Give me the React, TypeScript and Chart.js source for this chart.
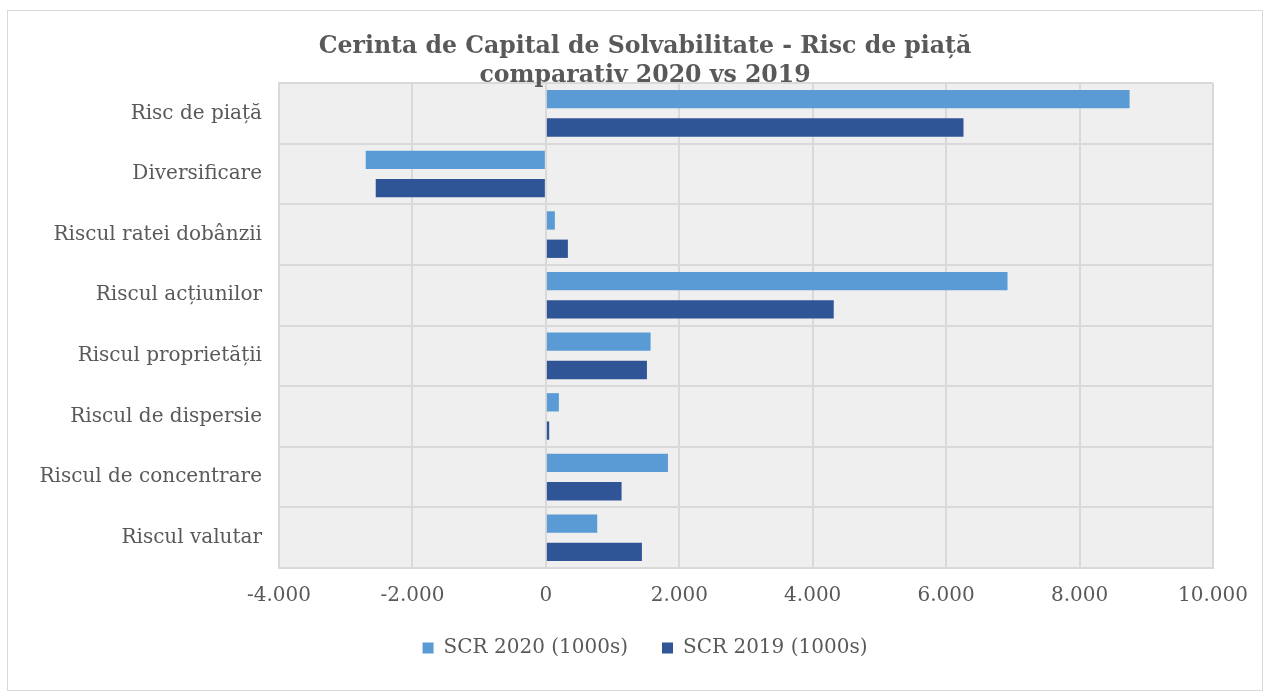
import React, { useEffect, useRef } from "react";
import { Chart, registerables } from "chart.js";

Chart.register(...registerables);

const categories = [
  "Risc de piață",
  "Diversificare",
  "Riscul ratei dobânzii",
  "Riscul acțiunilor",
  "Riscul proprietății",
  "Riscul de dispersie",
  "Riscul de concentrare",
  "Riscul valutar",
];
const scr2020 = [8750, -2700, 135, 6920, 1570, 195, 1830, 770];
const scr2019 = [6260, -2550, 330, 4315, 1515, 50, 1135, 1440];
const seriesNames = ["SCR 2020 (1000s)", "SCR 2019 (1000s)"];
const titleLines = [
  "Cerinta de Capital de Solvabilitate - Risc de piață",
  "comparativ 2020 vs 2019",
];
const xMin = -4000;
const xMax = 10000;
const xStep = 2000;

const W = 1271;
const H = 697;
const TEXT = "#595959";
const GRID = "#d9d9d9";
const FONT = "'DejaVu Serif', serif";

function fmt(v: number): string {
  const s = Math.round(Math.abs(v))
    .toString()
    .replace(/\B(?=(\d{3})+(?!\d))/g, ".");
  return (v < 0 ? "-" : "") + s;
}

const plotBg = {
  id: "plotBg",
  beforeDraw(chart: any) {
    const { ctx, chartArea } = chart;
    if (!chartArea) return;
    ctx.save();
    ctx.fillStyle = "#efefef";
    ctx.fillRect(chartArea.left, chartArea.top, chartArea.right - chartArea.left, chartArea.bottom - chartArea.top);
    ctx.restore();
  },
};

export default function App() {
  const ref = useRef<HTMLCanvasElement | null>(null);

  useEffect(() => {
    document.body.style.margin = "0";
    if (!ref.current) return;
    const chart = new Chart(ref.current, {
      type: "bar",
      data: {
        labels: categories,
        datasets: [
          {
            label: seriesNames[0],
            data: scr2020,
            backgroundColor: "#5b9bd5",
            borderWidth: 0,
            categoryPercentage: 0.934,
            barPercentage: 0.647,
          },
          {
            label: seriesNames[1],
            data: scr2019,
            backgroundColor: "#2f5597",
            borderWidth: 0,
            categoryPercentage: 0.934,
            barPercentage: 0.647,
          },
        ],
      },
      options: {
        indexAxis: "y",
        responsive: false,
        animation: false,
        layout: { padding: { left: 19, right: 0, top: 0, bottom: 29 } },
        scales: {
          x: {
            min: xMin,
            max: xMax,
            ticks: {
              stepSize: xStep,
              color: TEXT,
              font: { family: FONT, size: 20 },
              padding: 16,
              maxRotation: 0,
              callback: (v: any) => fmt(Number(v)),
            },
            grid: { color: GRID, lineWidth: 2, drawTicks: false },
            border: { color: GRID, width: 2 },
            afterFit: (scale: any) => {
              scale.height = 36;
            },
          },
          y: {
            ticks: {
              color: TEXT,
              font: { family: FONT, size: 20 },
              padding: 17,
            },
            grid: { color: GRID, lineWidth: 2, drawTicks: false },
            border: { color: GRID, width: 2 },
            afterFit: (scale: any) => {
              scale.width = 260;
            },
          },
          yRight: {
            type: "category",
            position: "right",
            display: true,
            grid: { display: false },
            border: { display: false },
            ticks: { display: false },
            afterFit: (scale: any) => {
              scale.width = 58;
            },
          },
        },
        plugins: {
          title: {
            display: true,
            text: titleLines,
            color: TEXT,
            font: { family: FONT, size: 23.6, weight: "bold", lineHeight: 1.23 },
            padding: { top: 32.5, bottom: -7.5 },
          },
          legend: {
            position: "bottom",
            labels: {
              color: TEXT,
              font: { family: FONT, size: 20 },
              boxWidth: 11,
              boxHeight: 11,
              padding: 34,
            },
          },
          tooltip: { enabled: false },
        },
      },
      plugins: [plotBg],
    } as any);
    return () => chart.destroy();
  }, []);

  return (
    <div style={{ position: "absolute", left: 0, top: 0, width: W, height: H, background: "#fff" }}>
      <div
        style={{
          position: "absolute",
          left: 7,
          top: 10,
          width: 1254,
          height: 679,
          border: "1px solid #d9d9d9",
        }}
      />
      <canvas ref={ref} width={W} height={H} style={{ position: "absolute", left: 0, top: 0 }} />
    </div>
  );
}
